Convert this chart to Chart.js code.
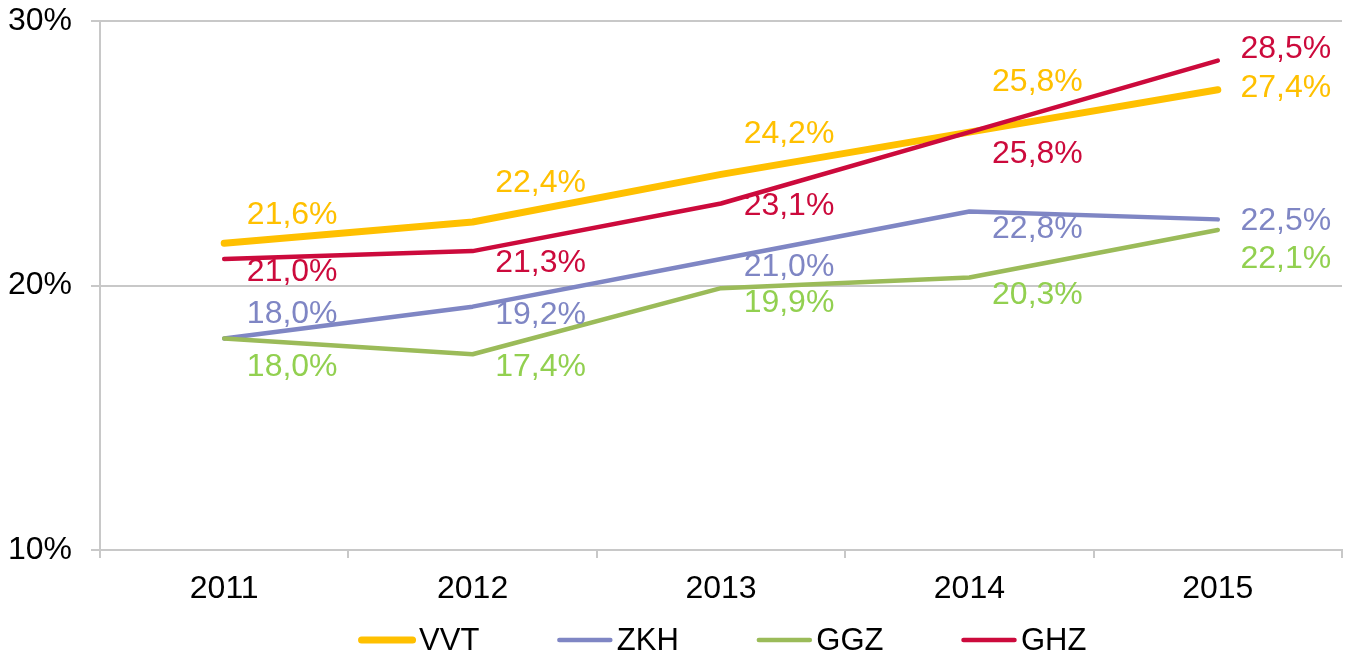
<!DOCTYPE html>
<html>
<head>
<meta charset="utf-8">
<script src="https://cdn.jsdelivr.net/npm/chart.js@4.4.0/dist/chart.umd.min.js"></script>
<style>
  html, body { margin: 0; padding: 0; background: #fff; }
  #wrap { width: 1352px; height: 656px; }
</style>
</head>
<body>
<div id="wrap"><canvas id="chart"></canvas></div>
<script>
const years = ['2011', '2012', '2013', '2014', '2015'];
const seriesNames = ['VVT', 'ZKH', 'GGZ', 'GHZ'];
const vvt = [21.6, 22.4, 24.2, 25.8, 27.4];
const zkh = [18.0, 19.2, 21.0, 22.8, 22.5];
const ggz = [18.0, 17.4, 19.9, 20.3, 22.1];
const ghz = [21.0, 21.3, 23.1, 25.8, 28.5];
const yTicks = [10, 20, 30];

const FONT = "'Liberation Sans', Arial, sans-serif";
const lineColors = ['#FFC000', '#7F86C4', '#9BBB59', '#CC0A3C'];
const labelColors = ['#FFC000', '#7F86C4', '#92D050', '#CC0A3C'];
const lineWidths = [7, 4.5, 4.5, 4.5];
const gridColor = '#C8C8C8';
// vertical nudge of each value label (px), as placed in the original
const labelShift = [
  [-30, -41, -42, -52, -4],
  [-26, 7, 6, 16, 0],
  [27, 11, 13, 16, 27],
  [11, 10, 1, 20, -14]
];

const fmt = v => v.toFixed(1).replace('.', ',') + '%';

const valueLabels = {
  id: 'valueLabels',
  afterDatasetsDraw(chart) {
    const ctx = chart.ctx;
    ctx.save();
    ctx.font = '32px ' + FONT;
    ctx.textAlign = 'center';
    ctx.textBaseline = 'middle';
    chart.data.datasets.forEach((ds, i) => {
      const meta = chart.getDatasetMeta(i);
      ctx.fillStyle = labelColors[i];
      meta.data.forEach((pt, j) => {
        ctx.fillText(fmt(ds.data[j]), pt.x + 68, pt.y + labelShift[i][j] + 2);
      });
    });
    ctx.restore();
  }
};

// Excel-style legend: short rounded line + name, fixed gaps
const lineLegend = {
  id: 'lineLegend',
  afterDraw(chart) {
    const ctx = chart.ctx;
    const lineLen = 51, gapText = 6.5, gapItem = 80, y = 640;
    ctx.save();
    ctx.font = '31px ' + FONT;
    ctx.textBaseline = 'middle';
    ctx.textAlign = 'left';
    const items = chart.data.datasets.map(ds => ({ ds, w: ctx.measureText(ds.label).width }));
    const total = items.reduce((s, it) => s + lineLen + gapText + it.w, 0) + gapItem * (items.length - 1);
    const ca = chart.chartArea;
    let x = (ca.left + ca.right) / 2 + 3 - total / 2;
    items.forEach(it => {
      ctx.strokeStyle = it.ds.borderColor;
      ctx.lineWidth = it.ds.borderWidth;
      ctx.lineCap = 'round';
      ctx.beginPath();
      ctx.moveTo(x, y);
      ctx.lineTo(x + lineLen, y);
      ctx.stroke();
      ctx.fillStyle = '#000';
      ctx.fillText(it.ds.label, x + lineLen + gapText, y + 1);
      x += lineLen + gapText + it.w + gapItem;
    });
    ctx.restore();
  }
};

const seriesData = [vvt, zkh, ggz, ghz];
const drawOrder = [3, 2, 1, 0];

new Chart(document.getElementById('chart'), {
  type: 'line',
  data: {
    labels: years,
    datasets: seriesNames.map((name, i) => ({
      label: name,
      data: seriesData[i],
      borderColor: lineColors[i],
      backgroundColor: lineColors[i],
      borderWidth: lineWidths[i],
      borderCapStyle: 'round',
      borderJoinStyle: 'round',
      pointRadius: 0,
      tension: 0,
      fill: false,
      order: drawOrder[i]
    }))
  },
  options: {
    responsive: true,
    maintainAspectRatio: false,
    animation: false,
    layout: { padding: { top: 21, right: 10, bottom: 51, left: 0 } },
    plugins: {
      legend: { display: false },
      tooltip: { enabled: false }
    },
    scales: {
      x: {
        offset: true,
        afterFit: s => { s.height = 55; s.paddingLeft = 0; s.paddingRight = 0; },
        grid: { offset: true, drawOnChartArea: false, color: gridColor, lineWidth: 2, tickLength: 8 },
        border: { display: true, color: gridColor, width: 2 },
        ticks: { color: '#000', font: { family: FONT, size: 32 }, padding: 12, maxRotation: 0 }
      },
      y: {
        min: 10,
        max: 30,
        afterBuildTicks: s => { s.ticks = yTicks.map(v => ({ value: v })); },
        afterFit: s => { s.width = 100; s.paddingTop = 0; s.paddingBottom = 0; },
        grid: { color: gridColor, lineWidth: 2, tickLength: 9 },
        border: { display: true, color: gridColor, width: 2 },
        ticks: { color: '#000', font: { family: FONT, size: 32 }, padding: 19, callback: v => v + '%' }
      }
    }
  },
  plugins: [valueLabels, lineLegend]
});
</script>
</body>
</html>
